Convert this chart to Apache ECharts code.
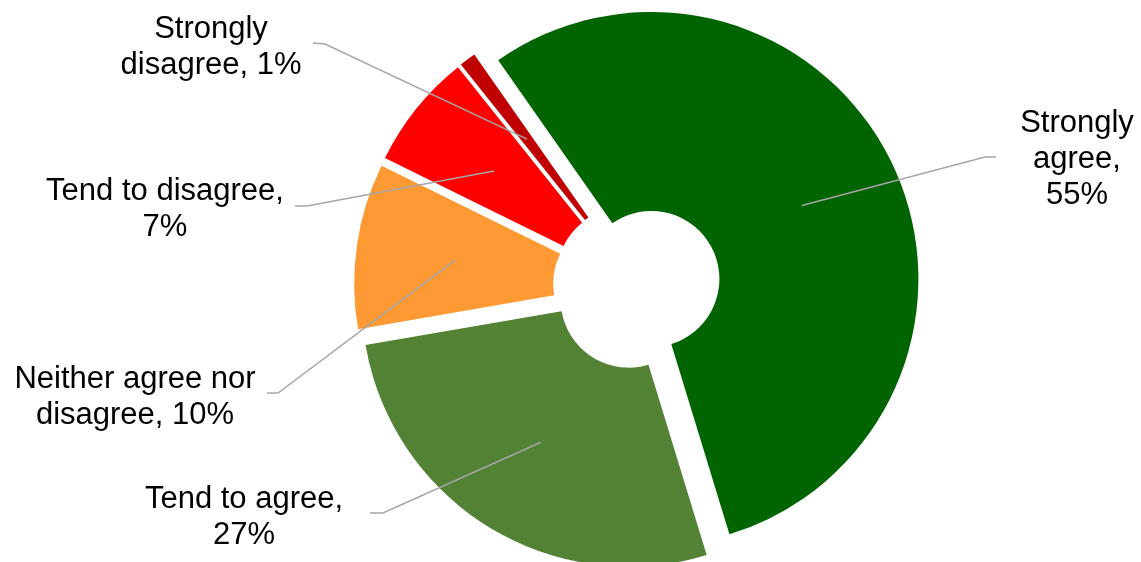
<!DOCTYPE html>
<html>
<head>
<meta charset="utf-8">
<title>Agreement survey</title>
<script src="https://cdn.jsdelivr.net/npm/echarts@6/dist/echarts.min.js"></script>
<style>
  html, body { margin: 0; padding: 0; background: #ffffff; }
  #chart { width: 1141px; height: 562px; }
</style>
</head>
<body>
<div id="chart"></div>
<script>
// Survey responses (percent of respondents)
const categories = ['Strongly agree', 'Tend to agree', 'Neither agree nor disagree', 'Tend to disagree', 'Strongly disagree'];
const values = [55, 27, 10, 7, 1];
// How each label's name wraps, and what follows its comma
const labelNames = ['Strongly\nagree', 'Tend to agree', 'Neither agree nor\ndisagree', 'Tend to disagree', 'Strongly\ndisagree'];
const labelBreaks = ['\n', '\n', ' ', '\n', ' '];

const colors = ['#006400', '#548235', '#FF9933', '#FF0000', '#C00000'];

// Ring geometry
const CX = 637, CY = 286, R_IN = 68, R_OUT = 267, START = 125, EXPLODE = 16;
// Label block centres and leader-line ends (end point, elbow)
const labelPos = [
  { x: 1077, y: 159, end: [996, 157], elbow: [985, 157] },
  { x: 244, y: 517, end: [370, 513], elbow: [383, 513] },
  { x: 135, y: 397, end: [267, 393], elbow: [278, 393] },
  { x: 165, y: 209, end: [295, 206], elbow: [307, 206] },
  { x: 211, y: 47, end: [313, 43], elbow: [325, 44] }
];

const total = values.reduce((a, b) => a + b, 0);
// Unit vector along slice i's bisector (screen coordinates)
function bisector(i) {
  let cum = 0;
  for (let k = 0; k < i; k++) cum += values[k];
  const a = (START - (cum + values[i] / 2) / total * 360) * Math.PI / 180;
  return [Math.cos(a), -Math.sin(a)];
}
// Leader line points; they live in the exploded slice's own frame,
// so the explode shift is taken back out
function leaderPoints(i) {
  const u = bisector(i);
  const rm = (R_IN + R_OUT) / 2;
  const sx = u[0] * EXPLODE, sy = u[1] * EXPLODE;
  const lp = labelPos[i];
  return [
    [CX + u[0] * rm, CY + u[1] * rm],
    [lp.elbow[0] - sx, lp.elbow[1] - sy],
    [lp.end[0] - sx, lp.end[1] - sy]
  ];
}

const baseSeries = {
  type: 'pie',
  center: [CX, CY],
  radius: [R_IN, R_OUT],
  startAngle: START,
  clockwise: true,
  selectedMode: 'multiple',
  selectedOffset: EXPLODE,
  avoidLabelOverlap: false,
  silent: true,
  emphasis: { disabled: true, scale: false },
  itemStyle: { borderWidth: 0 }
};

const chart = echarts.init(document.getElementById('chart'), null, { renderer: 'canvas' });
chart.setOption({
  animation: false,
  backgroundColor: '#ffffff',
  series: [
    // The exploded ring
    Object.assign({}, baseSeries, {
      z: 2,
      data: categories.map((c, i) => ({
        name: c,
        value: values[i],
        selected: true,
        itemStyle: { color: colors[i] },
        select: { itemStyle: { color: colors[i], borderWidth: 0 } }
      })),
      label: { show: false },
      labelLine: { show: false }
    }),
    // Same ring, unpainted, carrying labels and leader lines on top
    Object.assign({}, baseSeries, {
      z: 5,
      data: categories.map((c, i) => ({
        name: c,
        value: values[i],
        selected: true,
        itemStyle: { color: 'rgba(0,0,0,0)' },
        select: { itemStyle: { color: 'rgba(0,0,0,0)', borderWidth: 0 } }
      })),
      label: {
        show: true,
        position: 'outside',
        formatter: p => labelNames[p.dataIndex] + ',' + labelBreaks[p.dataIndex] + values[p.dataIndex] + '%',
        fontFamily: 'Liberation Sans, Arial, sans-serif',
        fontSize: 31,
        lineHeight: 36,
        color: '#000000'
      },
      labelLine: {
        show: true,
        length: 20,
        length2: 10,
        smooth: false,
        lineStyle: { color: '#A6A6A6', width: 1.5 }
      },
      labelLayout: function (params) {
        const i = params.dataIndex;
        const lp = labelPos[i];
        const r = params.labelRect;
        const u = bisector(i);
        // current horizontal anchor of the text, which becomes its centre
        const ax = params.align === 'left' ? r.x
          : params.align === 'right' ? r.x + r.width
          : r.x + r.width / 2;
        return {
          align: 'center',
          dx: lp.x - ax - u[0] * EXPLODE,
          dy: lp.y - (r.y + r.height / 2) - u[1] * EXPLODE,
          labelLinePoints: leaderPoints(i)
        };
      }
    })
  ]
});
</script>
</body>
</html>
